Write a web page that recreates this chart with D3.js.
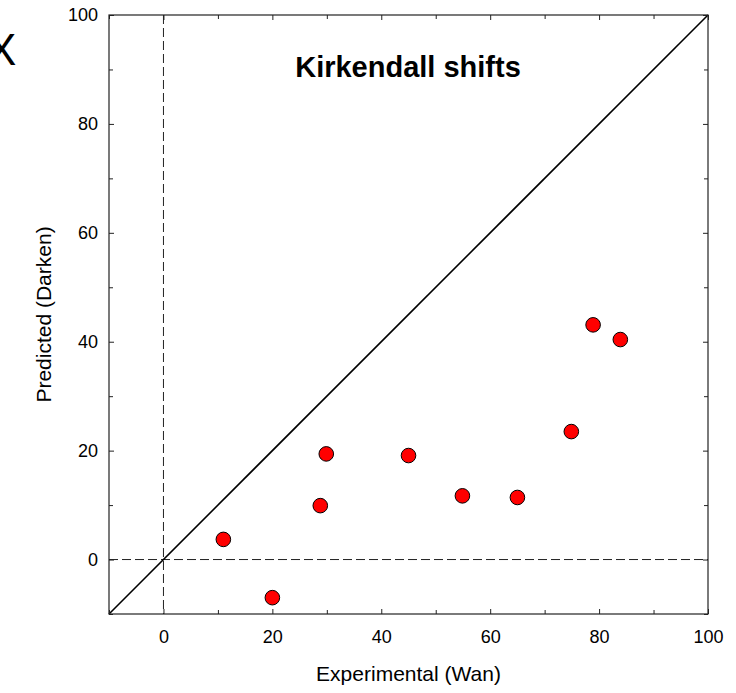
<!DOCTYPE html>
<html>
<head>
<meta charset="utf-8">
<script src="https://cdn.jsdelivr.net/npm/d3@7"></script>
<style>
  html, body { margin: 0; padding: 0; background: #fff; }
  svg { display: block; font-family: "Liberation Sans", Arial, sans-serif; }
</style>
</head>
<body>
<svg id="chart" width="736" height="693"></svg>
<script>
// Experimental vs predicted Kirkendall shifts
const experimental = [11, 20, 28.8, 29.9, 45, 54.9, 65, 74.9, 78.9, 83.9];
const predicted    = [3.7, -7.0, 9.9, 19.4, 19.1, 11.7, 11.4, 23.5, 43.1, 40.4];
const majorTicks = [0, 20, 40, 60, 80, 100];
const minorTicks = [-10, 10, 30, 50, 70, 90];
const domain = [-10, 100];

const svg = d3.select("#chart");
const plotL = 109, plotR = 708, plotT = 15, plotB = 614;

const x = d3.scaleLinear().domain(domain).range([plotL, plotR]);
const y = d3.scaleLinear().domain(domain).range([plotB, plotT]);

// reference lines through the origin
const ref = svg.append("g").attr("stroke", "#222").attr("stroke-width", 1)
  .attr("stroke-dasharray", "9,4").attr("fill", "none");
ref.append("line").attr("x1", x(0)).attr("x2", x(0)).attr("y1", plotT).attr("y2", plotB);
ref.append("line").attr("x1", plotL).attr("x2", plotR).attr("y1", y(0)).attr("y2", y(0));

// 1:1 line
svg.append("line")
  .attr("x1", x(domain[0])).attr("y1", y(domain[0]))
  .attr("x2", x(domain[1])).attr("y2", y(domain[1]))
  .attr("stroke", "#000").attr("stroke-width", 1.6);

// axes: inward ticks on all four sides
function styleAxis(g) {
  g.select(".domain").remove();
  g.selectAll("line").attr("stroke", "#222");
  g.selectAll("text").attr("font-size", 18).attr("fill", "#000");
}
const fmt = d3.format("d");
svg.append("g").attr("transform", `translate(0,${plotB})`)
  .call(d3.axisBottom(x).tickValues(majorTicks).tickFormat(fmt).tickSizeInner(-5).tickPadding(16))
  .call(styleAxis);
svg.append("g").attr("transform", `translate(0,${plotB})`)
  .call(d3.axisBottom(x).tickValues(minorTicks).tickFormat("").tickSizeInner(-4))
  .call(styleAxis);
svg.append("g").attr("transform", `translate(${plotL},0)`)
  .call(d3.axisLeft(y).tickValues(majorTicks).tickFormat(fmt).tickSizeInner(-5).tickPadding(11))
  .call(styleAxis);
svg.append("g").attr("transform", `translate(${plotL},0)`)
  .call(d3.axisLeft(y).tickValues(minorTicks).tickFormat("").tickSizeInner(-4))
  .call(styleAxis);
svg.append("g").attr("transform", `translate(0,${plotT})`)
  .call(d3.axisTop(x).tickValues(majorTicks).tickFormat("").tickSizeInner(-5))
  .call(styleAxis);
svg.append("g").attr("transform", `translate(0,${plotT})`)
  .call(d3.axisTop(x).tickValues(minorTicks).tickFormat("").tickSizeInner(-4))
  .call(styleAxis);
svg.append("g").attr("transform", `translate(${plotR},0)`)
  .call(d3.axisRight(y).tickValues(majorTicks).tickFormat("").tickSizeInner(-5))
  .call(styleAxis);
svg.append("g").attr("transform", `translate(${plotR},0)`)
  .call(d3.axisRight(y).tickValues(minorTicks).tickFormat("").tickSizeInner(-4))
  .call(styleAxis);

// frame
svg.append("rect")
  .attr("x", plotL).attr("y", plotT).attr("width", plotR - plotL).attr("height", plotB - plotT)
  .attr("fill", "none").attr("stroke", "#222").attr("stroke-width", 1.2);

// data points
svg.append("g").selectAll("circle")
  .data(experimental.map((v, i) => [v, predicted[i]]))
  .join("circle")
  .attr("cx", d => x(d[0])).attr("cy", d => y(d[1])).attr("r", 7.3)
  .attr("fill", "#ff0000").attr("stroke", "#000").attr("stroke-width", 1);

// labels
svg.append("text").attr("x", 408).attr("y", 77).attr("text-anchor", "middle")
  .attr("font-size", 29).attr("font-weight", "bold").text("Kirkendall shifts");
svg.append("text").attr("x", x(45)).attr("y", 681).attr("text-anchor", "middle")
  .attr("font-size", 21).text("Experimental (Wan)");
svg.append("text").attr("transform", `translate(51,${y(45)}) rotate(-90)`)
  .attr("text-anchor", "middle").attr("font-size", 21).text("Predicted (Darken)");

// stray glyph at the top-left edge
svg.append("text").attr("x", -13).attr("y", 65).attr("font-size", 44)
  .attr("font-weight", 300).text("X");
</script>
</body>
</html>
